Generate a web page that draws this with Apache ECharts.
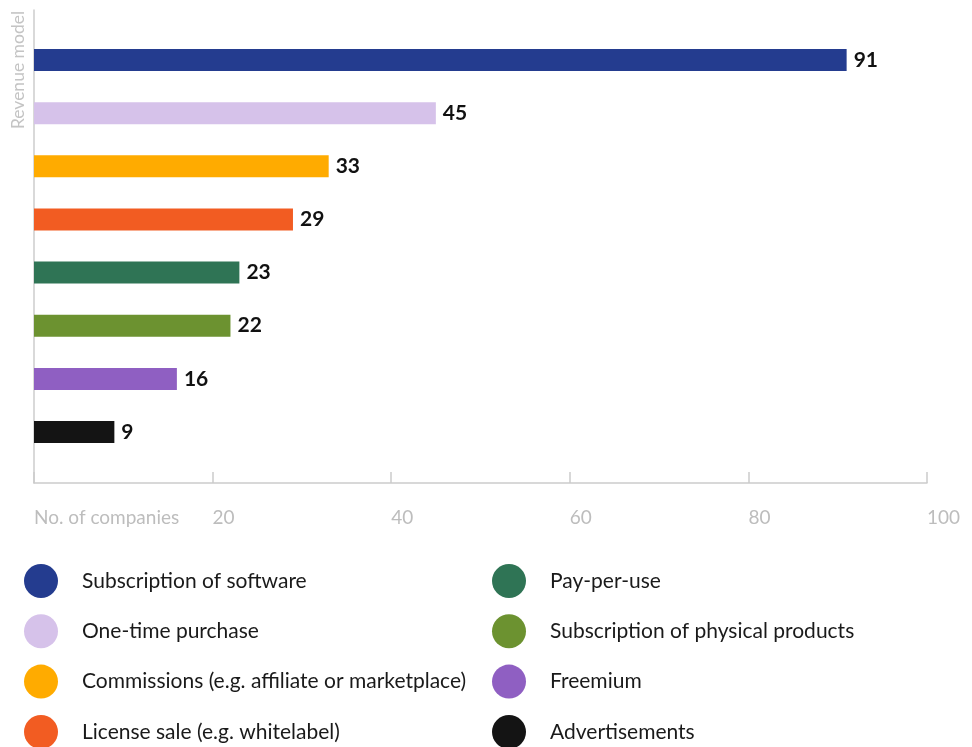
<!DOCTYPE html>
<html>
<head>
<meta charset="utf-8">
<script src="https://cdn.jsdelivr.net/npm/echarts@6/dist/echarts.min.js"></script>
<style>html,body{margin:0;padding:0;background:#fff;}#c{width:972px;height:747px;}</style>
</head>
<body>
<div id="c"></div>
<script>
const categories = ["Subscription of software","One-time purchase","Commissions (e.g. affiliate or marketplace)","License sale (e.g. whitelabel)","Pay-per-use","Subscription of physical products","Freemium","Advertisements"];
const values = [91,45,33,29,23,22,16,9];
const colors = ["#243c8f","#d6c2ea","#ffab00","#f25c22","#2f7455","#6c9230","#8f5fc2","#141414"];
const xTicks = [0,20,40,60,80,100];
const xAxisTitle = "No. of companies";
const yAxisTitle = "Revenue model";

const FONT = "Lato";
const chart = echarts.init(document.getElementById('c'), null, {renderer:'canvas'});

const series = categories.map((name, i) => ({
  name: name,
  type: 'bar',
  stack: 'all',
  xAxisIndex: 1,
  yAxisIndex: 1,
  barWidth: 22,
  itemStyle: {color: colors[i]},
  data: categories.map((c, j) => j === i ? values[i] : '-'),
  label: {show: true, position: 'right', distance: 7, color: '#111', fontFamily: FONT, fontWeight: 'bold', fontSize: 21},
  animation: false
}));

const legends = categories.map((name, i) => ({
  data: [name],
  orient: 'vertical',
  left: i < 4 ? 24 : 492,
  top: 564 + (i % 4) * 50.3,
  padding: 0,
  itemWidth: 34, itemHeight: 34, icon: 'circle',
  selectedMode: false,
  textStyle: {fontSize: 21, color: '#1a1a1a', fontFamily: FONT, padding: [0,0,0,19]}
}));

chart.setOption({
  animation: false,
  textStyle: {fontFamily: FONT},
  grid: [
    {left: 34, right: 45, top: 10, bottom: 264},
    {left: 34, right: 45, top: 33.4, height: 425.2}
  ],
  xAxis: [
    {type: 'value', gridIndex: 0, min: xTicks[0], max: xTicks[xTicks.length-1], interval: 20,
     axisLine: {show: true, lineStyle: {color: '#cccccc', width: 1.5}},
     axisTick: {show: true, inside: true, length: 11, lineStyle: {color: '#cccccc', width: 1.5}},
     splitLine: {show: false},
     axisLabel: {align: 'left', margin: 25, color: '#bdbdbd', fontSize: 19, fontFamily: FONT,
       formatter: v => v === 0 ? xAxisTitle : String(v)}},
    {type: 'value', gridIndex: 1, min: 0, max: 100, show: false}
  ],
  yAxis: [
    {type: 'value', gridIndex: 0, min: 0, max: 1,
     axisLine: {show: true, lineStyle: {color: '#cccccc', width: 1.5}},
     axisTick: {show: false}, axisLabel: {show: false}, splitLine: {show: false}},
    {type: 'category', gridIndex: 1, data: categories, inverse: true, show: false}
  ],
  graphic: [{type: 'text', x: 18, y: 70, rotation: Math.PI/2,
    style: {text: yAxisTitle, fill: '#c4c4c4', font: '17.5px ' + FONT, textAlign: 'center', textVerticalAlign: 'middle'}}],
  legend: legends,
  series: series
});
</script>
</body>
</html>
